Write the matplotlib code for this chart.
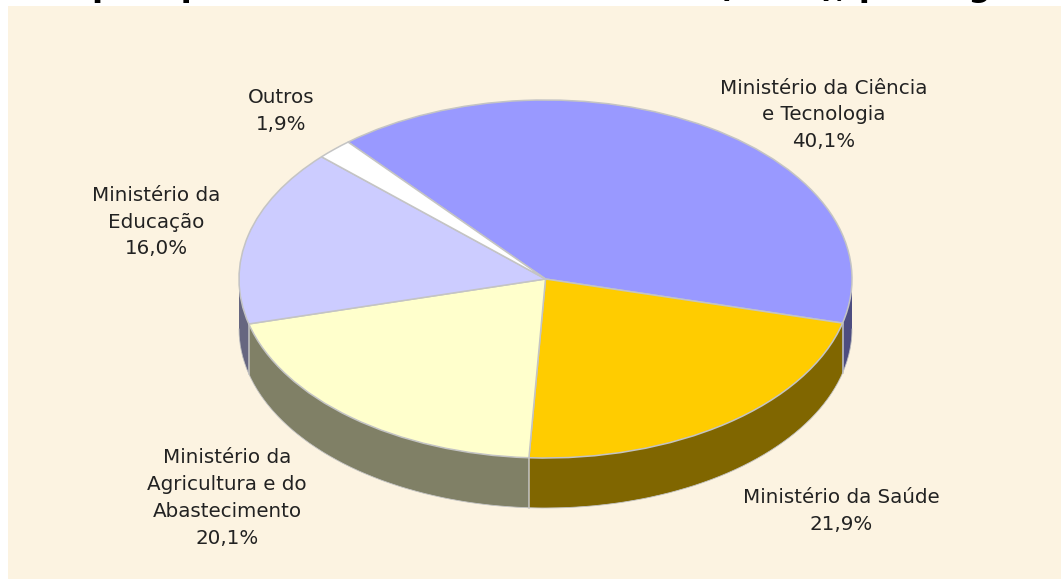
import numpy as np
import matplotlib
matplotlib.use("Agg")
import matplotlib.pyplot as plt

# Data
labels = ["Ministério da Ciência\ne Tecnologia", "Ministério da Saúde",
          "Ministério da\nAgricultura e do\nAbastecimento", "Ministério da\nEducação", "Outros"]
values = [40.1, 21.9, 20.1, 16.0, 1.9]
top_colors = ["#9999FF", "#FFCC00", "#FFFFCC", "#CCCCFF", "#FFFFFF"]
side_colors = ["#4D4D80", "#806600", "#808066", "#666680", "#808080"]
label_xy = [(824, 115), (841, 511), (227, 498), (156, 222), (281, 111)]
title = "Uso pelo poder federal em ciência ano (2000), por órgão"

W, H = 1061, 579
CX, CY, RX, RY, DEPTH = 545.5, 279, 306.5, 179, 50
START = 130.1
EDGE = "#C4C4C4"

fig = plt.figure(figsize=(W / 100, H / 100), dpi=100, facecolor="white")
ax = fig.add_axes([0, 0, 1, 1])

# side of the disc: the same pie stacked downwards
for d in range(DEPTH, 0, -1):
    ax.pie(values, colors=side_colors, startangle=START, counterclock=False,
           center=(0, -d / RY), radius=1, frame=True, wedgeprops={"linewidth": 0})
ax.pie(values, colors=top_colors, startangle=START, counterclock=False,
       center=(0, 0), radius=1, frame=True,
       wedgeprops={"linewidth": 1.1, "edgecolor": EDGE})

# full pixel frame, x and y in pie units
ax.set_aspect("auto")
ax.set_xlim((0 - CX) / RX, (W - CX) / RX)
ax.set_ylim((CY - H) / RY, CY / RY)
ax.set_xticks([])
ax.set_yticks([])
for s in ax.spines.values():
    s.set_visible(False)
ax.set_facecolor("#FCF3E1")

# light lines where front slices meet on the side
ang = START - np.cumsum(values) / 100 * 360
for a in ang:
    c, s = np.cos(np.radians(a)), np.sin(np.radians(a))
    if s < 0:
        ax.plot([c, c], [s, s - DEPTH / RY], color=EDGE, lw=1.1)

# bottom outline of the side
t = np.linspace(np.pi, 2 * np.pi, 300)
ax.plot(np.cos(t), np.sin(t) - DEPTH / RY, color=EDGE, lw=0.6)

for lab, val, (x, y) in zip(labels, values, label_xy):
    txt = lab + "\n" + f"{val:.1f}%".replace(".", ",")
    ax.text((x - CX) / RX, (CY - y) / RY, txt, ha="center", va="center",
            fontsize=14.3, color="#222222", linespacing=1.52, family="DejaVu Sans")

# white strip along the top and left, the big heading is cut off by the image edge
ax.axhspan(CY / RY - 6 / RY, CY / RY, color="white", zorder=5, lw=0)
ax.axvspan((0 - CX) / RX, (8 - CX) / RX, color="white", zorder=5, lw=0)
fig.text(14 / W, 1 + 4 / H, title, fontsize=23, fontweight="bold", color="black",
         family="DejaVu Sans", ha="left", va="baseline", zorder=6)

fig.savefig("out.png", dpi=100)
